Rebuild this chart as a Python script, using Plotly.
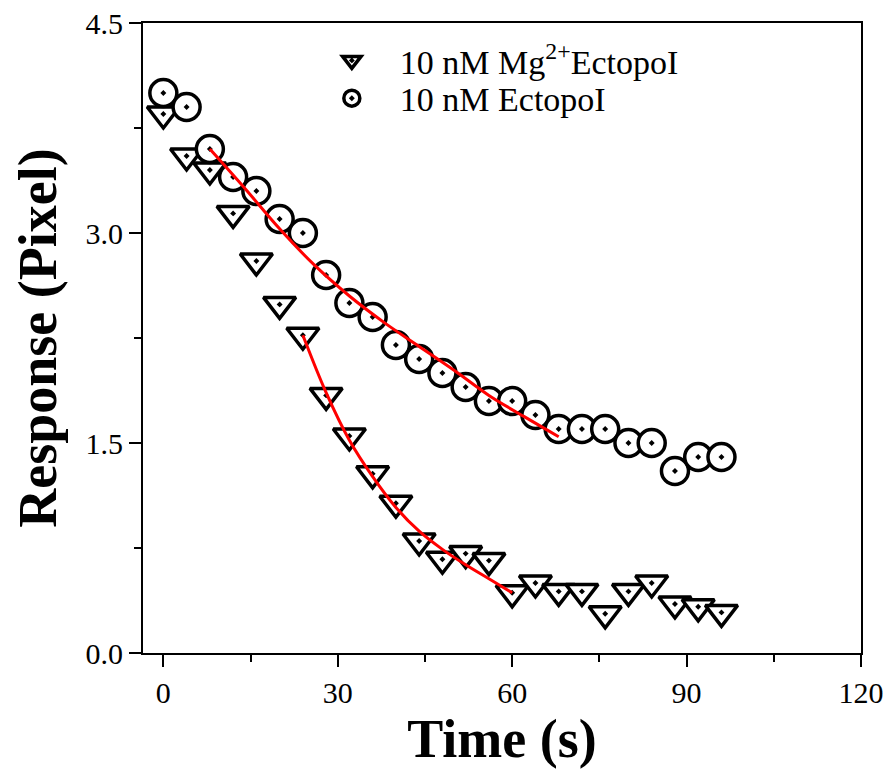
import plotly.graph_objects as go

# time points (s)
t_pts = [0, 4, 8, 12, 16, 20, 24, 28, 32, 36, 40, 44, 48, 52, 56, 60,
         64, 68, 72, 76, 80, 84, 88, 92, 96]

# 10 nM Mg2+ EctopoI (triangles)
mg_resp = [3.85, 3.55, 3.45, 3.14, 2.80, 2.49, 2.27, 1.84, 1.55, 1.28,
           1.07, 0.80, 0.67, 0.71, 0.66, 0.43, 0.50, 0.44, 0.44, 0.28,
           0.44, 0.50, 0.35, 0.33, 0.29]

# 10 nM EctopoI (circles)
ecto_resp = [4.00, 3.90, 3.60, 3.40, 3.30, 3.10, 3.00, 2.70, 2.50, 2.40,
             2.20, 2.10, 2.00, 1.90, 1.80, 1.80, 1.70, 1.60, 1.60, 1.60,
             1.50, 1.50, 1.30, 1.40, 1.40]

# red fit curves
mg_fit_t = [24, 28, 32, 36, 40, 44, 48, 52, 56, 60]
mg_fit_y = [2.27, 1.86, 1.52, 1.26, 1.04, 0.87, 0.74, 0.63, 0.53, 0.43]

ecto_fit_t = [8, 14, 20, 26, 32, 38, 44, 50, 56, 62, 68]
ecto_fit_y = [3.60, 3.32, 3.03, 2.77, 2.55, 2.36, 2.19, 2.02, 1.84, 1.69, 1.545]

x_ticks = [0, 30, 60, 90, 120]
y_ticks = [0.0, 1.5, 3.0, 4.5]

FONT = "Liberation Serif"

fig = go.Figure()

fig.add_trace(go.Scatter(x=t_pts, y=mg_resp, mode="markers",
                         name="10 nM Mg<sup>2+</sup>EctopoI", legend="legend",
                         marker=dict(symbol="triangle-down-dot", size=28, color="white",
                                     line=dict(color="black", width=3.5))))
fig.add_trace(go.Scatter(x=t_pts, y=ecto_resp, mode="markers",
                         name="10 nM EctopoI", legend="legend2",
                         marker=dict(symbol="circle-dot", size=27, color="white",
                                     line=dict(color="black", width=3.5))))
fig.add_trace(go.Scatter(x=mg_fit_t, y=mg_fit_y, mode="lines", showlegend=False,
                         line=dict(color="red", width=3, shape="spline")))
fig.add_trace(go.Scatter(x=ecto_fit_t, y=ecto_fit_y, mode="lines", showlegend=False,
                         line=dict(color="red", width=3, shape="spline")))

axis_common = dict(showline=True, linecolor="black", linewidth=2, mirror=True,
                   showgrid=False, zeroline=False, ticks="outside", ticklen=12,
                   tickwidth=2, tickcolor="black", automargin=False,
                   tickfont=dict(family=FONT, size=30, color="black"))

fig.update_xaxes(range=[-3.5, 120], tickvals=x_ticks,
                 minor=dict(dtick=15, ticks="outside", ticklen=7, tickwidth=2, tickcolor="black"),
                 title=dict(text="<b>Time (s)</b>", font=dict(family=FONT, size=54, color="black"),
                            standoff=6),
                 **axis_common)
fig.update_yaxes(range=[0, 4.5], tickvals=y_ticks, tickformat=".1f",
                 minor=dict(dtick=0.75, ticks="outside", ticklen=7, tickwidth=2, tickcolor="black"),
                 title=dict(text="<b>Response (Pixel)</b>", font=dict(family=FONT, size=54, color="black"),
                            standoff=12),
                 **axis_common)

legend_style = dict(xanchor="left", yanchor="middle", bgcolor="rgba(0,0,0,0)",
                    font=dict(family=FONT, size=34, color="black"),
                    itemsizing="trace", itemwidth=86)

fig.update_layout(
    width=892, height=769,
    margin=dict(l=143, r=31, t=23, b=116),
    plot_bgcolor="white", paper_bgcolor="white",
    legend=dict(x=0.224, y=0.94, **legend_style),
    legend2=dict(x=0.224, y=0.88, **legend_style),
)

# drop the default 8px page margin so the figure sits at the window corner
fig.write_html("out.html", config={"displayModeBar": False},
               post_script="document.body.style.margin='0';")
